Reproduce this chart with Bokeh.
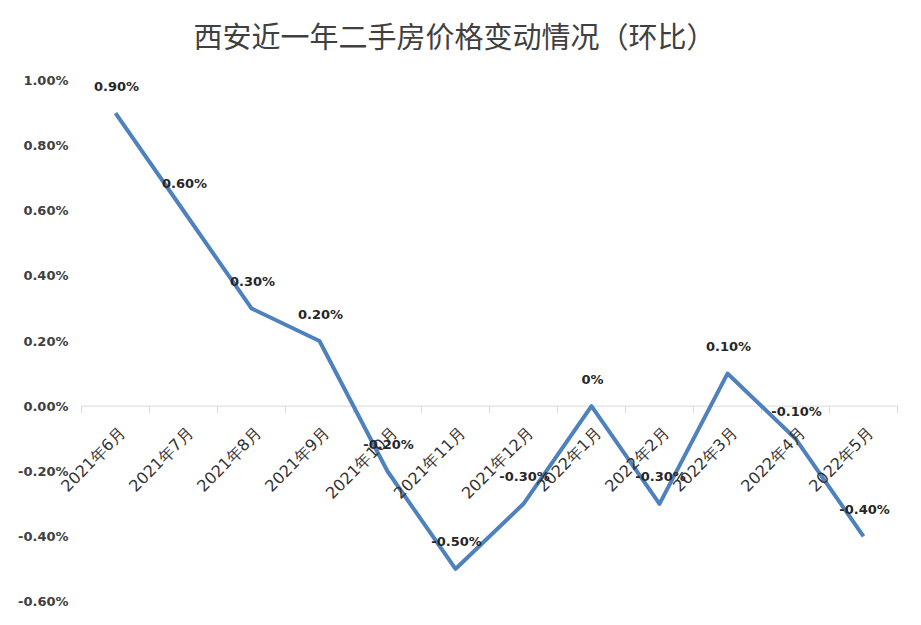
from bokeh.plotting import figure
from bokeh.models import Range1d, ColumnDataSource, LabelSet, Label
from bokeh.core.properties import value
from bokeh.embed import file_html
from bokeh.resources import INLINE

# ---- data ----
title_text = "西安近一年二手房价格变动情况（环比）"
categories = ["2021年6月", "2021年7月", "2021年8月", "2021年9月", "2021年10月", "2021年11月",
              "2021年12月", "2022年1月", "2022年2月", "2022年3月", "2022年4月", "2022年5月"]
values = [0.9, 0.6, 0.3, 0.2, -0.2, -0.5, -0.3, 0.0, -0.3, 0.1, -0.1, -0.4]  # percent
value_labels = ["0.90%", "0.60%", "0.30%", "0.20%", "-0.20%", "-0.50%",
                "-0.30%", "0%", "-0.30%", "0.10%", "-0.10%", "-0.40%"]
y_ticks = [-0.6, -0.4, -0.2, 0, 0.2, 0.4, 0.6, 0.8, 1.0]
y_tick_labels = ["-0.60%", "-0.40%", "-0.20%", "0.00%", "0.20%", "0.40%", "0.60%", "0.80%", "1.00%"]

# ---- layout (plot area inside a full-canvas frame) ----
W, H = 905, 609
PL, PR, PT, PB = 81, 897, 80, 601     # plot area edges in px
n = len(categories)
y_min, y_max = -0.6, 1.0
ppu_y = (PB - PT) / (y_max - y_min)
ppu_x = (PR - PL) / n

p = figure(width=W, height=H, output_backend="svg", toolbar_location=None,
           x_range=Range1d(-PL / ppu_x, (W - PL) / ppu_x),
           y_range=Range1d(y_min - (H - PB) / ppu_y, y_max + PT / ppu_y),
           min_border=0, x_axis_location=None, y_axis_location=None)
p.outline_line_color = None
p.grid.visible = False
p.background_fill_color = "white"
p.border_fill_color = "white"

# y tick labels
ysrc = ColumnDataSource(dict(x=[0] * len(y_ticks), y=y_ticks, t=y_tick_labels))
p.add_layout(LabelSet(x="x", y="y", text="t", source=ysrc, x_offset=-13, y_offset=0,
                      text_align="right", text_baseline="middle",
                      text_font=value("DejaVu Sans"), text_font_style="bold",
                      text_font_size="13px", text_color="#404040"))

# zero (category) axis line and ticks
bounds = list(range(n + 1))
p.segment(x0=[0], y0=[0], x1=[n], y1=[0], line_color="#d9d9d9", line_width=1)
tick_len = 7 / ppu_y
p.segment(x0=bounds, y0=[0] * len(bounds), x1=bounds, y1=[-tick_len] * len(bounds),
          line_color="#d9d9d9", line_width=1)

centers = [i + 0.5 for i in range(n)]
src = ColumnDataSource(dict(x=centers, y=values, lab=value_labels, cat=categories,
                            zero=[0] * n))

# category labels (rotated)
p.add_layout(LabelSet(x="x", y="zero", text="cat", source=src, x_offset=7, y_offset=-24,
                      angle=0.7853981634, text_align="right", text_baseline="middle",
                      text_font=value("DejaVu Sans"), text_font_size="16px",
                      text_color="#333333"))

p.line("x", "y", source=src, line_color="#4F81BD", line_width=4, line_join="round")

# data labels
p.add_layout(LabelSet(x="x", y="y", text="lab", source=src, x_offset=1, y_offset=27,
                      text_align="center", text_baseline="middle",
                      text_font=value("DejaVu Sans"), text_font_style="bold",
                      text_font_size="13px", text_color="#262626"))

# title
title_x = (454 - PL) / ppu_x
title_y = y_max + (PT - 34) / ppu_y
p.add_layout(Label(x=title_x, y=title_y, text=title_text, text_align="center",
                   text_baseline="middle", text_font="Noto Sans CJK SC",
                   text_font_size="29px", text_color="#404040"))

open("out.html", "w").write(file_html(p, INLINE))
